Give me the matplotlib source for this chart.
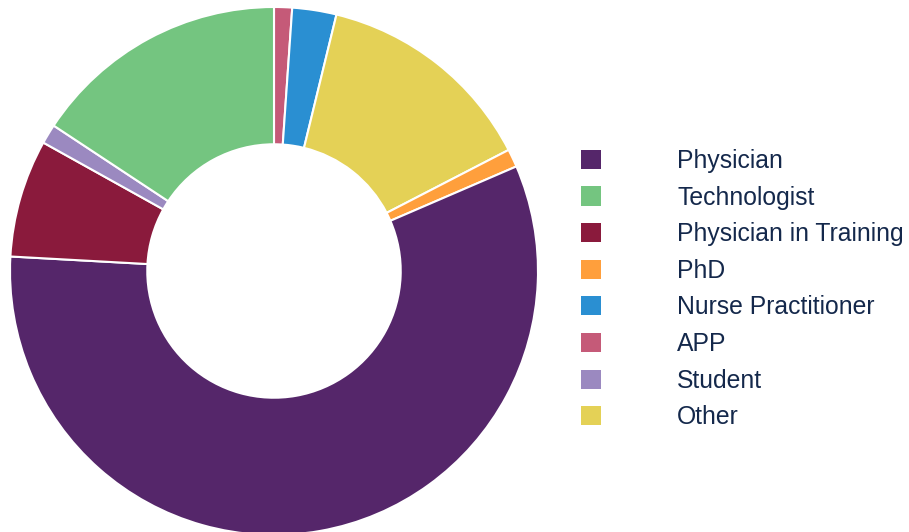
import matplotlib
matplotlib.use("Agg")
import matplotlib.pyplot as plt
from matplotlib.patches import Patch

# slices, clockwise from 12 o'clock
categories = ["APP", "Nurse Practitioner", "Other", "PhD", "Physician",
              "Physician in Training", "Student", "Technologist"]
shares = [1.1, 2.7, 13.6, 1.1, 57.3, 7.2, 1.2, 15.7]
colors = {
    "Physician": "#55266a",
    "Technologist": "#74c580",
    "Physician in Training": "#8a1a3c",
    "PhD": "#ff9f3c",
    "Nurse Practitioner": "#2a8fd2",
    "APP": "#c55a78",
    "Student": "#9b89c0",
    "Other": "#e4d156",
}
legend_order = ["Physician", "Technologist", "Physician in Training", "PhD",
                "Nurse Practitioner", "APP", "Student", "Other"]

plt.rcParams['font.family'] = ['Liberation Sans', 'DejaVu Sans']

fig = plt.figure(figsize=(9.09, 5.32), dpi=100)
W, H = 909, 532
ax = fig.add_axes([10 / W, -3 / H, 528 / W, 528 / H])
ax.pie(shares, colors=[colors[c] for c in categories], startangle=90,
       counterclock=False, radius=1,
       wedgeprops=dict(width=0.52, edgecolor="white", linewidth=1.5))
ax.set_xlim(-1, 1)
ax.set_ylim(-1, 1)
ax.axis("off")

fs = 17.8
px = fs * 100 / 72
handles = [Patch(facecolor=colors[c], edgecolor="none", label=c) for c in legend_order]
fig.legend(handles=handles, loc="upper left", bbox_to_anchor=(581 / W, 1 - 149 / H),
           frameon=False, fontsize=fs, handlelength=20 / px, handleheight=20 / px,
           handletextpad=76 / px, labelspacing=0.51, borderpad=0, borderaxespad=0,
           labelcolor="#14284b")

fig.savefig("out.png", dpi=100)
